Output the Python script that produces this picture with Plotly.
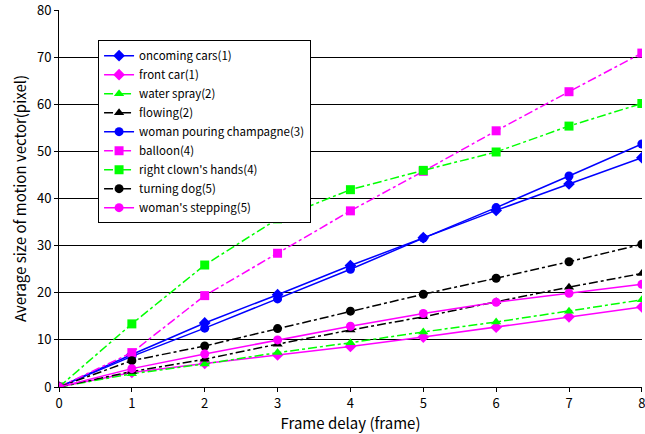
import plotly.graph_objects as go

frames = [0, 1, 2, 3, 4, 5, 6, 7, 8]

oncoming_cars = [0, 6.9, 13.6, 19.6, 25.8, 31.7, 37.5, 43.1, 48.7]
front_car = [0, 3.1, 5.0, 6.8, 8.6, 10.6, 12.7, 14.9, 17.0]
water_spray = [0, 2.8, 4.9, 7.3, 9.4, 11.7, 13.8, 16.1, 18.5]
flowing = [0, 3.3, 5.9, 9.1, 12.1, 14.9, 18.1, 21.2, 24.1]
woman_pouring = [0, 6.5, 12.5, 18.7, 25.0, 31.6, 38.1, 44.8, 51.6]
balloon = [0, 7.3, 19.4, 28.4, 37.4, 45.8, 54.4, 62.7, 70.9]
clown_hands = [0, 13.4, 25.9, 35.7, 41.9, 46.0, 49.9, 55.4, 60.2]
turning_dog = [0, 5.6, 8.7, 12.4, 16.1, 19.7, 23.1, 26.6, 30.3]
woman_stepping = [0, 3.9, 7.0, 10.0, 12.9, 15.6, 18.0, 19.9, 21.8]

x_ticks = [0, 1, 2, 3, 4, 5, 6, 7, 8]
y_ticks = [0, 10, 20, 30, 40, 50, 60, 70, 80]

series = [
    ("oncoming cars(1)", oncoming_cars, "#0000FF", "diamond", "solid"),
    ("front car(1)", front_car, "#FF00FF", "diamond", "solid"),
    ("water spray(2)", water_spray, "#00FF00", "triangle-up", "dashdot"),
    ("flowing(2)", flowing, "#000000", "triangle-up", "dashdot"),
    ("woman pouring champagne(3)", woman_pouring, "#0000FF", "circle", "solid"),
    ("balloon(4)", balloon, "#FF00FF", "square", "dashdot"),
    ("right clown's hands(4)", clown_hands, "#00FF00", "square", "dashdot"),
    ("turning dog(5)", turning_dog, "#000000", "circle", "dashdot"),
    ("woman's stepping(5)", woman_stepping, "#FF00FF", "circle", "solid"),
]

fig = go.Figure()
for name, vals, color, sym, dash in series:
    fig.add_trace(go.Scatter(
        x=frames, y=vals, name=name, mode="lines+markers",
        line=dict(color=color, width=1.5, dash=dash),
        marker=dict(symbol=sym, size=9, color=color),
    ))

font = "Noto Sans CJK JP, sans-serif"
fig.update_layout(
    width=645, height=434,
    margin=dict(l=59, r=3, t=10, b=47),
    paper_bgcolor="white", plot_bgcolor="white",
    font=dict(family=font, size=12, color="black"),
    showlegend=True,
    legend=dict(
        x=0.067, y=0.92, xanchor="left", yanchor="top",
        bordercolor="black", borderwidth=1, bgcolor="white",
        font=dict(size=11.5), tracegroupgap=0, itemwidth=30,
    ),
    xaxis=dict(
        range=[0, 8.002], tickvals=x_ticks, ticktext=[str(v) for v in x_ticks],
        showgrid=False, zeroline=False,
        showline=True, linecolor="black", linewidth=1,
        ticks="outside", ticklen=4, tickcolor="black",
        tickfont=dict(size=13), automargin=False, ticklabeloverflow="allow",
        title=dict(text="Frame delay (frame)", font=dict(size=15), standoff=4),
    ),
    yaxis=dict(
        range=[0, 80.05], tickvals=y_ticks, ticktext=[str(v) for v in y_ticks],
        showgrid=True, gridcolor="black", gridwidth=1,
        zeroline=False, showline=True, linecolor="black", linewidth=1,
        ticks="outside", ticklen=4, tickcolor="black",
        tickfont=dict(size=13), automargin=False, ticklabeloverflow="allow",
        title=dict(text="Average size of motion vector(pixel)", font=dict(size=15), standoff=6),
    ),
)

fig.write_html("out.html", config={"displayModeBar": False},
               post_script="document.body.style.margin='0';")
